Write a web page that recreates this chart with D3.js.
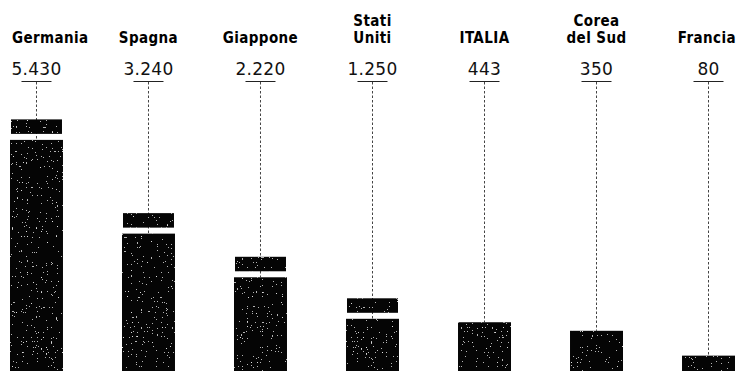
<!DOCTYPE html>
<html>
<head>
<meta charset="utf-8">
<script src="https://cdn.jsdelivr.net/npm/d3@7"></script>
<style>
  html, body { margin: 0; padding: 0; background: #fff; overflow: hidden; }
  .name { font-family: "DejaVu Sans Condensed", "DejaVu Sans", sans-serif; font-weight: bold; font-size: 15px; letter-spacing: 0.4px; fill: #000; }
  .val { font-family: "DejaVu Sans", sans-serif; font-size: 17px; letter-spacing: 0.3px; fill: #111; }
</style>
</head>
<body>
<svg id="chart" width="738" height="371"></svg>
<script>
// Countries (line breaks split the two-line names) and their values
const countries = ["Germania", "Spagna", "Giappone", "Stati\nUniti", "ITALIA", "Corea\ndel Sud", "Francia"];
const values = [5430, 3240, 2220, 1250, 443, 350, 80];
// Bars above this value use the compressed upper scale and are drawn broken
const breakValue = 1000;

const W = 738, H = 371;
const svg = d3.select("#chart");

const x = d3.scaleBand().domain(countries).range([10, 735]).paddingInner(0.527).paddingOuter(0);
const yLow = d3.scaleLinear().domain([0, 500]).range([363, 317]);
const yHigh = d3.scaleLinear().domain([1000, 6000]).range([309, 95]);
const y = v => (v > breakValue ? yHigh(v) : yLow(v));

const fmt = d3.formatLocale({ decimal: ",", thousands: ".", grouping: [3], currency: ["", " €"] }).format(",");

// Speckled print texture for the bars
const defs = svg.append("defs");
const f = defs.append("filter").attr("id", "grain")
  .attr("x", 0).attr("y", 0).attr("width", 1).attr("height", 1)
  .attr("color-interpolation-filters", "sRGB");
f.append("feTurbulence").attr("type", "fractalNoise").attr("baseFrequency", 0.8)
  .attr("numOctaves", 1).attr("seed", 4).attr("result", "noise");
f.append("feColorMatrix").attr("in", "noise").attr("type", "matrix")
  .attr("values", "0 0 0 0 1  0 0 0 0 1  0 0 0 0 1  1 0 0 0 0").attr("result", "white");
const ct = f.append("feComponentTransfer").attr("in", "white").attr("result", "dots");
ct.append("feFuncA").attr("type", "discrete")
  .attr("tableValues", "0 0 0 0 0 0 0 0 0 0 0 0 0 0 0.7 0.85 0.9 0.9 0.9 0.9");
f.append("feComposite").attr("in", "dots").attr("in2", "SourceAlpha").attr("operator", "in").attr("result", "dotsIn");
const m = f.append("feMerge");
m.append("feMergeNode").attr("in", "SourceGraphic");
m.append("feMergeNode").attr("in", "dotsIn");

const data = countries.map((c, i) => ({ name: c, value: values[i] }));
const cx = d => x(d.name) + x.bandwidth() / 2;

const pieceH = 14.5, gapH = 6;
const g = svg.selectAll("g.col").data(data).join("g").attr("class", "col");

// dotted leader from the value down to the bar
g.append("line")
  .attr("x1", cx).attr("x2", cx)
  .attr("y1", 82)
  .attr("y2", d => d.value > breakValue ? y(d.value) + pieceH + gapH : y(d.value))
  .attr("stroke", "#444").attr("stroke-width", 1).attr("stroke-dasharray", "2.5,2");

// underline below the value
g.append("line")
  .attr("x1", d => cx(d) - 15).attr("x2", d => cx(d) + 15)
  .attr("y1", 81.5).attr("y2", 81.5)
  .attr("stroke", "#222").attr("stroke-width", 1);

// bars: broken bars get a cap piece separated by a white gap
g.each(function (d) {
  const sel = d3.select(this);
  const top = y(d.value), x0 = x(d.name), bw = x.bandwidth();
  if (d.value > breakValue) {
    sel.append("rect").attr("x", x0 + 1).attr("y", top).attr("width", bw - 2).attr("height", pieceH)
      .attr("fill", "#050505").attr("filter", "url(#grain)");
    sel.append("rect").attr("x", x0).attr("y", top + pieceH + gapH).attr("width", bw)
      .attr("height", H + 2 - (top + pieceH + gapH))
      .attr("fill", "#050505").attr("filter", "url(#grain)");
  } else {
    sel.append("rect").attr("x", x0).attr("y", top).attr("width", bw).attr("height", H + 2 - top)
      .attr("fill", "#050505").attr("filter", "url(#grain)");
  }
});

// value labels
g.append("text").attr("class", "val")
  .attr("x", cx).attr("y", 74.5).attr("text-anchor", "middle")
  .text(d => fmt(d.value));

// country names, bottom line aligned; kept inside the page edges
g.append("text").attr("class", "name")
  .attr("text-anchor", "middle")
  .each(function (d) {
    const t = d3.select(this);
    const lines = d.name.split("\n");
    lines.forEach((ln, k) => {
      t.append("tspan").attr("x", cx(d)).attr("y", 42.5 - (lines.length - 1 - k) * 16.8).text(ln);
    });
    const w = this.getBBox().width;
    const c = Math.max(12 + w / 2, Math.min(W - 2 - w / 2, cx(d)));
    t.selectAll("tspan").attr("x", c);
  });
</script>
</body>
</html>
